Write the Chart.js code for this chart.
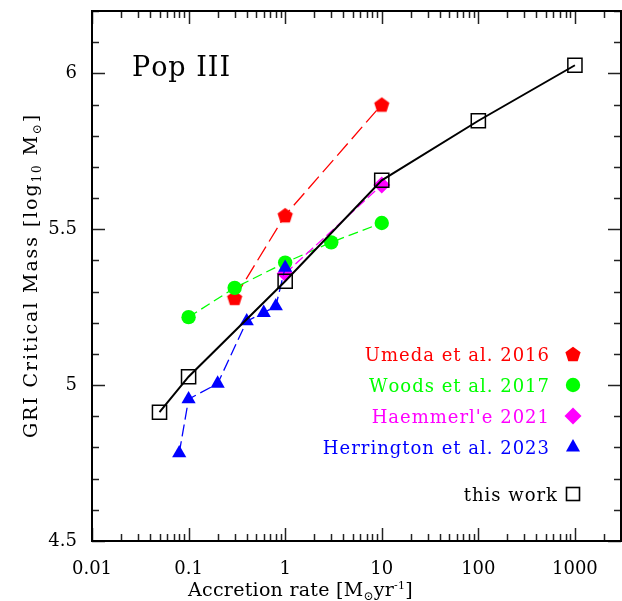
<!DOCTYPE html>
<html><head><meta charset="utf-8">
<script src="https://cdn.jsdelivr.net/npm/chart.js@4.4.0/dist/chart.umd.min.js"></script>
<style>html,body{margin:0;padding:0;background:#fff;overflow:hidden}canvas{display:block}</style>
</head><body><canvas id="c" width="622" height="601"></canvas>
<script>
// ---- data ----
const umedaRate = [0.3, 1, 10];
const umedaMass = [5.28, 5.545, 5.90];
const woodsRate = [0.1, 0.3, 1, 3, 10];
const woodsMass = [5.218, 5.312, 5.393, 5.458, 5.52];
const haemRate = [1, 10];
const haemMass = [5.358, 5.642];
const herrRate = [0.08, 0.1, 0.2, 0.4, 0.6, 0.8, 1];
const herrMass = [4.782, 4.955, 5.005, 5.205, 5.232, 5.253, 5.377];
const workRate = [0.05, 0.1, 1, 10, 100, 1000];
const workMass = [4.913, 5.027, 5.333, 5.657, 5.848, 6.026];
const xTickValues = [0.01, 0.1, 1, 10, 100, 1000];
const yTickValues = [4.5, 5, 5.5, 6];
const legendLabels = ['Umeda et al. 2016', 'Woods et al. 2017', "Haemmerl'e 2021", 'Herrington et al. 2023', 'this work'];
const legendColors = ['#ff0000', '#00ff00', '#ff00ff', '#0000ff', '#000000'];

const FONT = '"DejaVu Serif", "Liberation Serif", serif';

function pts(xs, ys) { return xs.map((x, i) => ({x: x, y: ys[i]})); }

function pentagonPath(g, cx, cy, r) {
  g.beginPath();
  for (let i = 0; i < 5; i++) {
    const a = -Math.PI / 2 + i * 2 * Math.PI / 5;
    const px = cx + r * Math.cos(a), py = cy + r * Math.sin(a);
    if (i) g.lineTo(px, py); else g.moveTo(px, py);
  }
  g.closePath();
}
function makePentagon(r, color) {
  const c = document.createElement('canvas');
  const s = Math.ceil(2 * r + 2);
  c.width = s; c.height = s;
  const g = c.getContext('2d');
  g.fillStyle = color;
  pentagonPath(g, s / 2, s / 2 + 0.8, r);
  g.fill();
  return c;
}
const pentagonImg = makePentagon(8, '#ff0000');

function drawRich(ctx, parts, x, y, target) {
  let natural = 0, n = 0;
  for (const [t, size] of parts) { ctx.font = size + 'px ' + FONT; natural += ctx.measureText(t).width; n += t.length; }
  const sp = target ? (target - natural) / n : 0;
  let cx = x;
  for (const [t, size, dy] of parts) {
    ctx.font = size + 'px ' + FONT;
    for (const ch of t) {
      ctx.fillText(ch, cx, y + dy);
      cx += ctx.measureText(ch).width + sp;
    }
  }
}
function spacedText(ctx, text, xRight, y, sp) {
  let w = 0;
  for (const ch of text) w += ctx.measureText(ch).width + sp;
  w -= sp;
  let cx = xRight - w;
  const al = ctx.textAlign; ctx.textAlign = 'left';
  for (const ch of text) { ctx.fillText(ch, cx, y); cx += ctx.measureText(ch).width + sp; }
  ctx.textAlign = al;
}

const decorPlugin = {
  id: 'decor',
  afterDatasetsDraw(chart) {
    const ctx = chart.ctx, a = chart.chartArea, xs = chart.scales.x, ys = chart.scales.y;
    ctx.save();
    ctx.strokeStyle = '#222';
    ctx.lineWidth = 1.5;
    const seg = (x1, y1, x2, y2) => { ctx.beginPath(); ctx.moveTo(x1, y1); ctx.lineTo(x2, y2); ctx.stroke(); };
    for (let e = -2; e <= 3; e++) {
      for (let m = 1; m <= 9; m++) {
        const v = m * Math.pow(10, e);
        if (v > 3000 * 1.0001) break;
        const px = Math.round(xs.getPixelForValue(v)) + 0.5;
        const len = m === 1 ? 13 : 7;
        seg(px, a.bottom, px, a.bottom - len);
        seg(px, a.top, px, a.top + len);
      }
    }
    for (let i = 0; i <= 17; i++) {
      const v = 4.5 + i * 0.1;
      const py = Math.round(ys.getPixelForValue(v)) + 0.5;
      const len = (i % 5 === 0) ? 13 : 7;
      seg(a.left, py, a.left + len, py);
      seg(a.right, py, a.right - len, py);
    }
    ctx.strokeStyle = '#000';
    ctx.lineWidth = 2;
    ctx.strokeRect(a.left, a.top, a.right - a.left, a.bottom - a.top);
    ctx.restore();
  },
  afterDraw(chart) {
    const ctx = chart.ctx;
    ctx.save();
    ctx.fillStyle = '#000';
    ctx.textAlign = 'left';
    ctx.textBaseline = 'alphabetic';
    drawRich(ctx, [['Pop III', 27, 0]], 132, 76, 98);
    drawRich(ctx, [['Accretion rate [M', 19, 0], ['\u2299', 12, 4], ['yr', 19, 0], ['-1', 11, -7], [']', 19, 0]], 188, 596, 225);
    ctx.save();
    ctx.translate(37, 438);
    ctx.rotate(-Math.PI / 2);
    drawRich(ctx, [['GRI Critical Mass [log', 19, 0], ['10', 12, 4], [' M', 19, 0], ['\u2299', 12, 4], [']', 19, 0]], 0, 0, 325);
    ctx.restore();
    const rows = [354, 385, 416, 447, 494];
    ctx.font = '18px ' + FONT;
    for (let i = 0; i < legendLabels.length; i++) {
      const ry = rows[i];
      ctx.fillStyle = legendColors[i];
      spacedText(ctx, legendLabels[i], i === 4 ? 557 : 549, ry + 6.5, 1);
      const mx = 573;
      ctx.beginPath();
      if (i === 0) { pentagonPath(ctx, mx, ry + 0.8, 8); ctx.fill(); }
      else if (i === 1) { ctx.arc(mx, ry, 7.2, 0, Math.PI * 2); ctx.fill(); }
      else if (i === 2) { ctx.moveTo(mx, ry - 8.5); ctx.lineTo(mx + 8.5, ry); ctx.lineTo(mx, ry + 8.5); ctx.lineTo(mx - 8.5, ry); ctx.closePath(); ctx.fill(); }
      else if (i === 3) { ctx.moveTo(mx, ry - 8); ctx.lineTo(mx + 7, ry + 4.5); ctx.lineTo(mx - 7, ry + 4.5); ctx.closePath(); ctx.fill(); }
      else { ctx.strokeStyle = '#000'; ctx.lineWidth = 1.6; ctx.strokeRect(mx - 6.5, ry - 6.5, 13, 13); }
    }
    ctx.restore();
  }
};

const common = {showLine: true, fill: false, tension: 0, borderWidth: 1.3, pointBorderWidth: 0, pointHoverRadius: 0};
const zeroPad = s => { s.paddingTop = 0; s.paddingBottom = 0; s.paddingLeft = 0; s.paddingRight = 0; };

new Chart(document.getElementById('c'), {
  type: 'scatter',
  data: {
    datasets: [
      Object.assign({}, common, {label: legendLabels[4], data: pts(workRate, workMass), borderColor: '#000', borderWidth: 2,
        pointStyle: 'rect', pointRadius: 10, pointBackgroundColor: 'rgba(0,0,0,0)', pointBorderColor: '#000', pointBorderWidth: 1.5, order: 0}),
      Object.assign({}, common, {label: legendLabels[3], data: pts(herrRate, herrMass), borderColor: '#0000ff', borderDash: [12, 5],
        pointStyle: 'triangle', pointRadius: 8.2, pointBackgroundColor: '#0000ff', pointBorderColor: '#0000ff', order: 1}),
      Object.assign({}, common, {label: legendLabels[2], data: pts(haemRate, haemMass), borderColor: '#ff00ff', borderDash: [10, 4],
        pointStyle: 'rectRot', pointRadius: 8.5, pointBackgroundColor: '#ff00ff', pointBorderColor: '#ff00ff', order: 2}),
      Object.assign({}, common, {label: legendLabels[1], data: pts(woodsRate, woodsMass), borderColor: '#00ff00', borderDash: [10, 5],
        pointStyle: 'circle', pointRadius: 7.2, pointBackgroundColor: '#00ff00', pointBorderColor: '#00ff00', order: 3}),
      Object.assign({}, common, {label: legendLabels[0], data: pts(umedaRate, umedaMass), borderColor: '#ff0000', borderDash: [16, 6],
        pointStyle: pentagonImg, pointRadius: 8, pointBackgroundColor: '#ff0000', pointBorderColor: '#ff0000', order: 4})
    ]
  },
  options: {
    responsive: false, animation: false, devicePixelRatio: 1,
    layout: {autoPadding: false, padding: {left: 0, right: 1, top: 11, bottom: 0}},
    plugins: {legend: {display: false}, tooltip: {enabled: false}},
    events: [],
    scales: {
      x: {
        type: 'logarithmic', min: 0.01, max: 3000, position: 'bottom',
        grid: {display: false, drawTicks: false}, border: {display: false},
        afterBuildTicks: s => { s.ticks = xTickValues.map(v => ({value: v, major: false})); },
        afterFit: s => { s.height = 60; zeroPad(s); },
        ticks: {autoSkip: false, maxRotation: 0, minRotation: 0, padding: 18, color: '#000',
          font: {family: FONT, size: 18}, callback: v => String(v)}
      },
      y: {
        type: 'linear', min: 4.5, max: 6.2, position: 'left',
        grid: {display: false, drawTicks: false}, border: {display: false},
        afterBuildTicks: s => { s.ticks = yTickValues.map(v => ({value: v})); },
        afterFit: s => { s.width = 92; zeroPad(s); },
        ticks: {padding: 15, color: '#000', font: {family: FONT, size: 18}, callback: v => String(v)}
      }
    }
  },
  plugins: [decorPlugin]
});
</script>
</body></html>
